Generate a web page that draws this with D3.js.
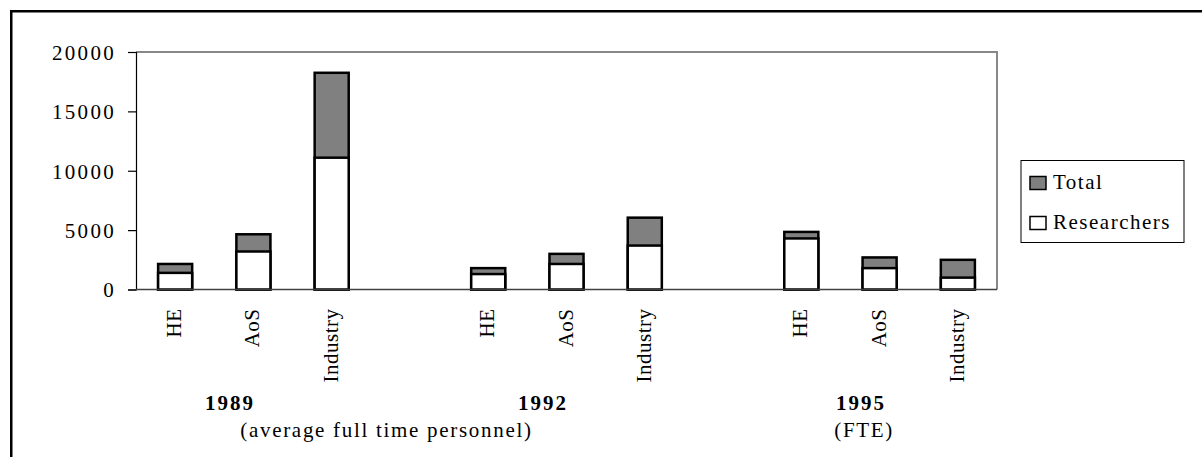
<!DOCTYPE html>
<html>
<head>
<meta charset="utf-8">
<script src="https://cdn.jsdelivr.net/npm/d3@7"></script>
<style>
  html, body { margin: 0; padding: 0; background: #fff; }
  svg { display: block; }
  text { font-family: "Liberation Serif", "Times New Roman", serif; fill: #000; }
</style>
</head>
<body>
<svg id="chart" width="1202" height="457"></svg>
<script>
// ---- data ----
const years = ["1989", "1992", "1995"];
const yearNotes = ["(average full time personnel)", "", "(FTE)"];
const sectors = ["HE", "AoS", "Industry"];
const totalValues = [
  [2150, 4650, 18250],   // 1989
  [1800, 3000, 6050],    // 1992
  [4850, 2700, 2500]     // 1995
];
const researcherValues = [
  [1400, 3200, 11100],
  [1300, 2150, 3700],
  [4300, 1800, 1000]
];
const yTicks = [0, 5000, 10000, 15000, 20000];
const seriesNames = ["Total", "Researchers"];
const seriesColors = ["#808080", "#ffffff"];

// ---- layout ----
const svg = d3.select("#chart");
const plot = { left: 136, right: 997, top: 52, bottom: 289.5 };

// slots: 3 bars per year with one empty slot between years
const slots = [];
years.forEach((yr, gi) => {
  sectors.forEach((s, si) => slots.push({ key: yr + "-" + s, year: yr, sector: s, gi, si,
    total: totalValues[gi][si], res: researcherValues[gi][si] }));
  if (gi < years.length - 1) slots.push({ key: "gap-" + gi, gap: true });
});

const x = d3.scaleBand().domain(slots.map(d => d.key))
  .range([plot.left, plot.right]).paddingInner(0.565).paddingOuter(0.2825);
const y = d3.scaleLinear().domain([0, 20000]).range([plot.bottom, plot.top]);

// outer frame
svg.append("rect").attr("x", 11.25).attr("y", 11.25).attr("width", 1400).attr("height", 800)
  .attr("fill", "none").attr("stroke", "#000").attr("stroke-width", 2.5);

// plot border (top and right gray)
svg.append("path")
  .attr("d", `M${plot.left},${plot.top}H${plot.right}V${plot.bottom}`)
  .attr("fill", "none").attr("stroke", "#888").attr("stroke-width", 2);

// y axis
const yAxis = d3.axisLeft(y).tickValues(yTicks).tickSize(8).tickPadding(12).tickFormat(d3.format("d"));
const gy = svg.append("g").attr("transform", `translate(${plot.left},0)`).call(yAxis);
gy.select(".domain").attr("stroke", "#000").attr("stroke-width", 1.2);
gy.selectAll(".tick line").attr("stroke", "#000").attr("stroke-width", 1.2);
gy.selectAll(".tick text").style("font-family", '"Liberation Serif", serif')
  .style("font-size", "21px").style("letter-spacing", "2.3px").attr("fill", "#000")
  .attr("dy", "0.35em");

const bars = slots.filter(d => !d.gap);
const bw = x.bandwidth();

// total bars (gray, full height)
svg.append("g").selectAll("rect").data(bars).join("rect")
  .attr("x", d => x(d.key)).attr("width", bw)
  .attr("y", d => y(d.total)).attr("height", d => y(0) - y(d.total))
  .attr("fill", seriesColors[0]).attr("stroke", "#000").attr("stroke-width", 2.5);

// researcher bars (white, overlaid)
svg.append("g").selectAll("rect").data(bars).join("rect")
  .attr("x", d => x(d.key)).attr("width", bw)
  .attr("y", d => y(d.res)).attr("height", d => y(0) - y(d.res))
  .attr("fill", seriesColors[1]).attr("stroke", "#000").attr("stroke-width", 2.5);

// baseline
svg.append("line").attr("x1", plot.left).attr("x2", plot.right)
  .attr("y1", y(0)).attr("y2", y(0)).attr("stroke", "#404040").attr("stroke-width", 1.5);

// category labels (rotated)
svg.append("g").selectAll("text").data(bars).join("text")
  .attr("transform", d => `translate(${x(d.key) + bw / 2 + 6},${y(0) + 19}) rotate(-90)`)
  .attr("text-anchor", "end")
  .style("font-size", "21px").style("letter-spacing", "0.5px")
  .text(d => d.sector);

// year labels
const yearX = gi => x(years[gi] + "-" + sectors[0]) + bw / 2 + 0.7 * x.step();
svg.append("g").selectAll("text").data(years).join("text")
  .attr("x", (d, i) => yearX(i) + (i === 2 ? 5 : 0)).attr("y", 409.5)
  .attr("text-anchor", "middle")
  .style("font-size", "21px").style("font-weight", "bold").style("letter-spacing", "2px")
  .text(d => d);

// notes
const noteX = [ (yearX(0) + yearX(1)) / 2, 0, yearX(2) + 8 ];
svg.append("g").selectAll("text").data(yearNotes.map((t, i) => ({ t, i })).filter(d => d.t))
  .join("text")
  .attr("x", d => noteX[d.i]).attr("y", 437)
  .attr("text-anchor", "middle")
  .style("font-size", "21px").style("letter-spacing", "1.7px")
  .text(d => d.t);

// legend
const lg = svg.append("g").attr("transform", "translate(1021,160.5)");
lg.append("rect").attr("width", 163).attr("height", 82)
  .attr("fill", "#fff").attr("stroke", "#000").attr("stroke-width", 1);
seriesNames.forEach((name, i) => {
  const row = lg.append("g").attr("transform", `translate(9,${16 + i * 40})`);
  row.append("rect").attr("width", 16).attr("height", 13)
    .attr("fill", seriesColors[i]).attr("stroke", "#000").attr("stroke-width", 1.5);
  row.append("text").attr("x", 23).attr("y", 12)
    .style("font-size", "21px").style("letter-spacing", "1.5px")
    .text(name);
});
</script>
</body>
</html>
